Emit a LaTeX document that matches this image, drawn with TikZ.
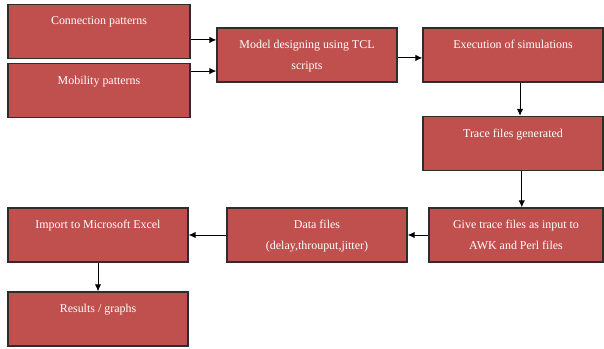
\documentclass[tikz,border=0pt]{standalone}
\usepackage{fontspec}
\setmainfont{Liberation Serif}
\usetikzlibrary{positioning,arrows.meta}
\definecolor{boxred}{RGB}{192,80,77}
\definecolor{boxline}{RGB}{45,45,45}
\tikzset{
  stagebox/.style={draw=boxline,line width=1.1pt,fill=boxred,minimum height=1.62cm,inner sep=0pt},
  stagetext/.style={text=white,inner sep=0pt,align=center,font=\fontsize{10.2}{18}\selectfont},
  flow/.style={line width=0.8pt,-{Latex[length=6pt,width=5.5pt]}}
}
\begin{document}
\begin{tikzpicture}[x=0.03cm,y=-0.03cm]
\useasboundingbox (0,0) rectangle (604,349);
\node[stagebox,minimum width=5.46cm] (conn) at (99,31.5) {};
\node[stagetext,below=11pt of conn.north] (conntxt) {Connection patterns};
\node[stagebox,minimum width=5.46cm] (mob) at (99,90.5) {};
\node[stagetext,below=11pt of mob.north] (mobtxt) {Mobility patterns};
\node[stagebox,minimum width=5.4cm] (model) at (307,55) {};
\node[stagetext,below=11pt of model.north] (modeltxt) {Model designing using TCL\\scripts};
\node[stagebox,minimum width=5.4cm] (exec) at (513,55) {};
\node[stagetext,below=11pt of exec.north] (exectxt) {Execution of simulations};
\node[stagebox,minimum width=5.4cm] (trace) at (513,143.5) {};
\node[stagetext,below=11pt of trace.north] (tracetxt) {Trace files generated};
\node[stagebox,minimum width=5.22cm] (awk) at (516,235) {};
\node[stagetext,below=11pt of awk.north] (awktxt) {Give trace files as input to\\AWK and Perl files};
\node[stagebox,minimum width=5.4cm] (data) at (317,235) {};
\node[stagetext,below=11pt of data.north] (datatxt) {Data files\\(delay,throuput,jitter)};
\node[stagebox,minimum width=5.4cm] (excel) at (98,235) {};
\node[stagetext,below=11pt of excel.north] (exceltxt) {Import to Microsoft Excel};
\node[stagebox,minimum width=5.4cm] (res) at (98,319) {};
\node[stagetext,below=11pt of res.north] (restxt) {Results / graphs};
\draw[flow] ([yshift=-7.2pt]conn.east) -- ([yshift=-7.2pt]conn.east -| model.west);
\draw[flow] ([yshift=16.6pt]mob.east) -- ([yshift=16.6pt]mob.east -| model.west);
\draw[flow] ([yshift=-2.5pt]model.east) -- ([yshift=-2.5pt]model.east -| exec.west);
\draw[flow] ([xshift=6pt]exec.south) -- ([xshift=6pt]exec.south |- trace.north);
\draw[flow] ([xshift=7.5pt]trace.south) -- ([xshift=7.5pt]trace.south |- awk.north);
\draw[flow] (awk.west) -- (data.east);
\draw[flow] (data.west) -- (excel.east);
\draw[flow] (excel.south) -- (res.north);
\end{tikzpicture}
\end{document}
